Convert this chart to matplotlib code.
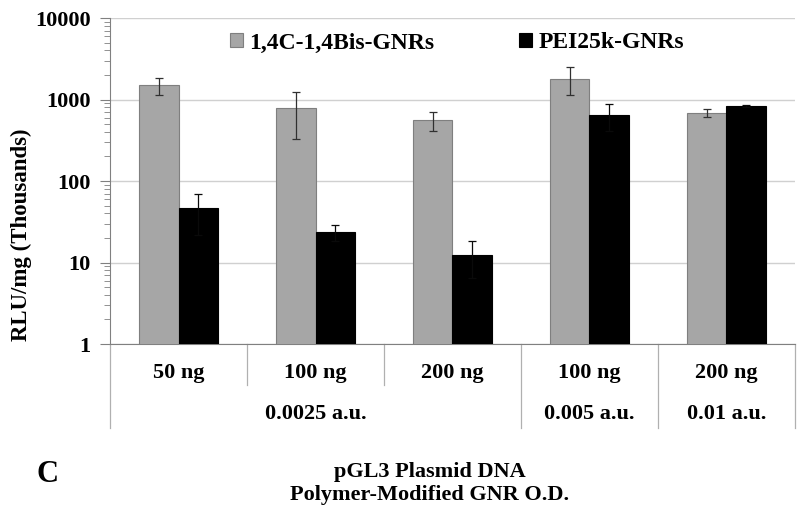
import numpy as np
import matplotlib.pyplot as plt
import matplotlib.transforms as mtransforms
from matplotlib.ticker import LogLocator, FixedLocator, FixedFormatter, NullFormatter

plt.rcParams['font.family'] = ['Liberation Serif', 'DejaVu Serif']
plt.rcParams['font.weight'] = 'bold'
plt.rcParams['axes.labelweight'] = 'bold'

# values (thousands of RLU/mg)
dose_labels = ['50 ng', '100 ng', '200 ng', '100 ng', '200 ng']
od_labels = ['0.0025 a.u.', '0.005 a.u.', '0.01 a.u.']
od_pos = [1, 3, 4]
bis_vals = [1500, 780, 560, 1800, 690]
bis_err = [350, 450, 145, 680, 80]
pei_vals = [46, 23.5, 12.5, 645, 840]
pei_err = [24, 5, 6, 230, 25]
y_ticks = [1, 10, 100, 1000, 10000]

fig = plt.figure(figsize=(8, 5.13), dpi=100)
ax = fig.add_axes([0.1375, 0.3294, 0.85625, 0.6355])

x = np.arange(len(dose_labels))
w = 0.29
ax.bar(x - w / 2, bis_vals, w, color='#a6a6a6', edgecolor='#7f7f7f', linewidth=0.8,
       yerr=bis_err, ecolor='#303030', error_kw=dict(elinewidth=0.9, capsize=3, capthick=0.9),
       label='1,4C-1,4Bis-GNRs', zorder=3)
ax.bar(x + w / 2, pei_vals, w, color='black', edgecolor='black', linewidth=0.8,
       yerr=pei_err, ecolor='#0a0a0a', error_kw=dict(elinewidth=0.9, capsize=3, capthick=0.9),
       label='PEI25k-GNRs', zorder=3)

ax.set_yscale('log')
ax.set_ylim(1, 10000)
ax.set_xlim(-0.5, 4.5)
ax.yaxis.set_major_locator(FixedLocator(y_ticks))
ax.yaxis.set_major_formatter(FixedFormatter([str(t) for t in y_ticks]))
ax.yaxis.set_minor_locator(LogLocator(base=10, subs=np.arange(2, 10)))
ax.yaxis.set_minor_formatter(NullFormatter())
ax.tick_params(axis='y', which='major', length=7, color='#808080', labelsize=16, pad=7)
ax.tick_params(axis='y', which='minor', length=4, color='#808080')
ax.set_xticks([])
ax.grid(axis='y', which='major', color='#d0d0d0', linewidth=1, zorder=0)
ax.set_axisbelow(True)
for s in ['top', 'right']:
    ax.spines[s].set_visible(False)
for s in ['left', 'bottom']:
    ax.spines[s].set_color('#808080')

ax.set_ylabel('RLU/mg (Thousands)', fontsize=16.5, fontweight='bold')
ax.yaxis.set_label_coords(-0.114, 0.334)

# two-level category axis
trans = mtransforms.blended_transform_factory(ax.transData, ax.transAxes)
for b in [-0.5, 0.5, 1.5, 2.5, 3.5, 4.5]:
    low = -0.126 if b in (0.5, 1.5) else -0.258
    ax.plot([b, b], [0, low], color='#b0b0b0', lw=0.9, transform=trans, clip_on=False)
for xi, lab in zip(x, dose_labels):
    ax.text(xi, -0.089, lab, transform=trans, ha='center', va='center', fontsize=16)
for xi, lab in zip(od_pos, od_labels):
    ax.text(xi, -0.215, lab, transform=trans, ha='center', va='center', fontsize=16)

fig.legend(loc='center', bbox_to_anchor=(457 / 800, 1 - 43 / 513), ncol=2, frameon=False,
           fontsize=17, handlelength=0.55, handleheight=0.55, handletextpad=0.25,
           columnspacing=3.6)

fig.text(430 / 800, 1 - 472 / 513, 'pGL3 Plasmid DNA', ha='center', va='center', fontsize=16)
fig.text(430 / 800, 1 - 495 / 513, 'Polymer-Modified GNR O.D.', ha='center', va='center', fontsize=16)
fig.text(47 / 800, 1 - 474 / 513, 'C', ha='center', va='center', fontsize=22)

for lab in ax.get_yticklabels():
    lab.set_fontweight('bold')

fig.savefig('out.png', dpi=100)
